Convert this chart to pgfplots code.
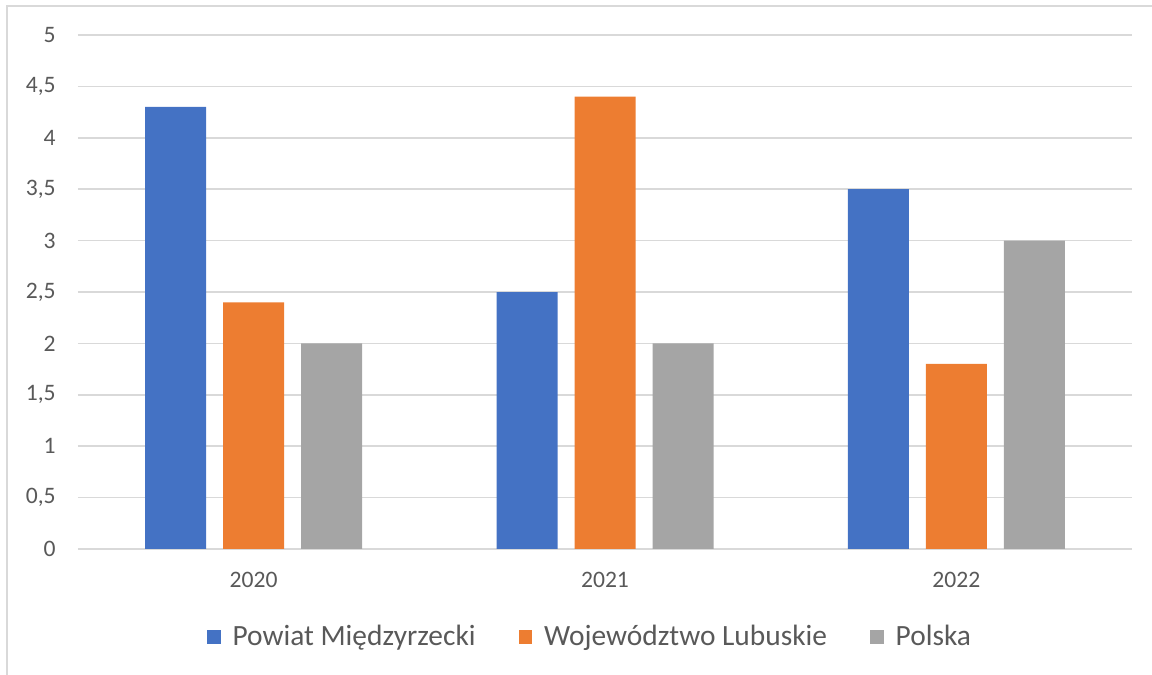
\documentclass[border=0pt]{standalone}
\usepackage{pgfplots}
\pgfplotsset{compat=1.18}
\usepackage{fontspec}
\setmainfont{Carlito}
\definecolor{cblue}{HTML}{4472C4}
\definecolor{corange}{HTML}{ED7D31}
\definecolor{cgray}{HTML}{A5A5A5}
\definecolor{gridc}{HTML}{D9D9D9}
\definecolor{txt}{HTML}{595959}
\begin{document}
\begin{tikzpicture}
\path[use as bounding box] (0,0) rectangle (576bp,337.5bp);
\draw[gridc, line width=1bp] (3.5bp,-2bp) -- (3.5bp,334.5bp) -- (580bp,334.5bp);
\begin{axis}[
  at={(39bp,63bp)}, anchor=south west,
  scale only axis, width=527bp, height=257bp,
  xmin=-0.5, xmax=2.5, ymin=0, ymax=5,
  xtick={0,1,2}, xticklabels={2020,2021,2022},
  ytick={0,0.5,...,5},
  axis line style={draw=none},
  major tick length=0pt, tick style={draw=none},
  ymajorgrids, grid style={gridc, line width=0.8bp},
  /pgf/number format/.cd, use comma, assume math mode=true,
  /pgfplots/.cd,
  yticklabel style={font=\fontsize{11.8bp}{14bp}\selectfont, text=txt, inner sep=0pt, anchor=east, xshift=-11bp},
  xticklabel style={font=\fontsize{11.8bp}{14bp}\selectfont, text=txt, inner sep=0pt, anchor=north, yshift=-11.5bp},
  legend columns=3,
  legend style={at={(0.4848,-0.1712)}, anchor=center, draw=none, fill=none,
    font=\fontsize{14.7bp}{17bp}\selectfont, text=txt,
    nodes={inner sep=0pt}, column sep=0pt,
    /tikz/every odd column/.style={column sep=6bp},
    /tikz/every even column/.style={column sep=21.5bp}},
  legend image code/.code={\fill[#1] (0bp,-3.4bp) rectangle (6.8bp,3.4bp);},
]
\addplot[ybar, bar width=30.5bp, bar shift=-39bp, fill=cblue, draw=none] coordinates {(0,4.3) (1,2.5) (2,3.5)};
\addplot[ybar, bar width=30.5bp, bar shift=0bp, fill=corange, draw=none] coordinates {(0,2.4) (1,4.4) (2,1.8)};
\addplot[ybar, bar width=30.5bp, bar shift=39bp, fill=cgray, draw=none] coordinates {(0,2.0) (1,2.0) (2,3.0)};
\legend{Powiat Międzyrzecki, Województwo Lubuskie, Polska}
\end{axis}
\end{tikzpicture}
\end{document}
